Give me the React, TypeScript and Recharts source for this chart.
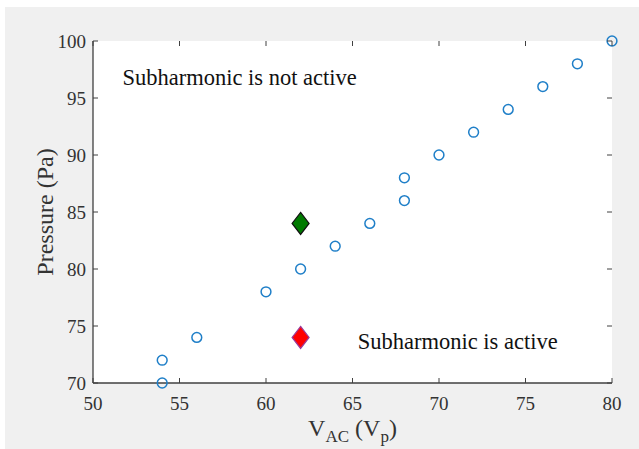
import { ScatterChart, Scatter, XAxis, YAxis, CartesianGrid, ReferenceDot } from 'recharts'

// measured data (V_AC in Vp, pressure in Pa)
const vac = [54, 54, 56, 60, 62, 64, 66, 68, 68, 70, 72, 74, 76, 78, 80]
const pressure = [70, 72, 74, 78, 80, 82, 84, 86, 88, 90, 92, 94, 96, 98, 100]

const notActiveVac = [62]
const notActivePressure = [84]
const activeVac = [62]
const activePressure = [74]

const xTicks = [50, 55, 60, 65, 70, 75, 80]
const yTicks = [70, 75, 80, 85, 90, 95, 100]

const notActiveText = { x: 51.7, y: 96.8, label: 'Subharmonic is not active' }
const activeText = { x: 65.3, y: 73.6, label: 'Subharmonic is active' }

const W = 639
const H = 449
const PLOT_LEFT = 93
const PLOT_RIGHT = 612
const PLOT_TOP = 41
const PLOT_BOTTOM = 383
const TICK = 5
const AXIS = '#404040'
const FONT = '"Liberation Serif", "Times New Roman", serif'

const points = vac.map((v, i) => ({ x: v, y: pressure[i] }))
const notActive = notActiveVac.map((v, i) => ({ x: v, y: notActivePressure[i] }))
const active = activeVac.map((v, i) => ({ x: v, y: activePressure[i] }))

const Ring = ({ cx, cy }: any) => (
  <circle cx={cx} cy={cy} r={4.9} fill="none" stroke="#1f7fc8" strokeWidth={1.5} />
)

const diamond = (fill: string, edge: string) => ({ cx, cy }: any) => (
  <polygon
    points={`${cx},${cy - 11} ${cx + 8.5},${cy} ${cx},${cy + 11} ${cx - 8.5},${cy}`}
    fill={fill}
    stroke={edge}
    strokeWidth={1.2}
  />
)

const XTick = ({ x, payload }: any) => (
  <g>
    <line x1={x} x2={x} y1={PLOT_BOTTOM} y2={PLOT_BOTTOM - TICK} stroke={AXIS} />
    <line x1={x} x2={x} y1={PLOT_TOP} y2={PLOT_TOP + TICK} stroke={AXIS} />
    <text x={x} y={PLOT_BOTTOM + 27} textAnchor="middle" fontFamily={FONT} fontSize={19} fill="#333">
      {payload.value}
    </text>
  </g>
)

const YTick = ({ y, payload }: any) => (
  <g>
    <line x1={PLOT_LEFT} x2={PLOT_LEFT + TICK} y1={y} y2={y} stroke={AXIS} />
    <line x1={PLOT_RIGHT} x2={PLOT_RIGHT - TICK} y1={y} y2={y} stroke={AXIS} />
    <text x={PLOT_LEFT - 7} y={y} textAnchor="end" dominantBaseline="central" fontFamily={FONT} fontSize={19} fill="#333">
      {payload.value}
    </text>
  </g>
)

const XLabel = () => (
  <text x={(PLOT_LEFT + PLOT_RIGHT) / 2} y={436} textAnchor="middle" fontFamily={FONT} fontSize={24} fill="#333">
    <tspan>V</tspan>
    <tspan dy={6} fontSize={17}>AC</tspan>
    <tspan dy={-6}> (V</tspan>
    <tspan dy={6} fontSize={17}>p</tspan>
    <tspan dy={-6}>)</tspan>
  </text>
)

const YLabel = () => (
  <text
    x={45}
    y={(PLOT_TOP + PLOT_BOTTOM) / 2}
    textAnchor="middle"
    dominantBaseline="central"
    transform={`rotate(-90, 45, ${(PLOT_TOP + PLOT_BOTTOM) / 2})`}
    fontFamily={FONT}
    fontSize={24}
    fill="#333"
  >
    Pressure (Pa)
  </text>
)

const Note = ({ text }: { text: string }) => ({ viewBox }: any) => (
  <text x={viewBox.x} y={viewBox.y} dominantBaseline="central" fontFamily={FONT} fontSize={22.5} fill="#111">
    {text}
  </text>
)

export default function App() {
  return (
    <div style={{ position: 'fixed', left: 0, top: 0, width: W, height: H, background: '#fff' }}>
      <div style={{ position: 'absolute', left: 5, top: 7, right: 0, bottom: 0, background: '#f0f0f0' }} />
      <div style={{ position: 'absolute', left: 0, top: 0 }}>
        <ScatterChart
          width={W}
          height={H}
          margin={{ top: PLOT_TOP, right: W - PLOT_RIGHT, bottom: 0, left: 0 }}
        >
          <CartesianGrid fill="#fff" horizontal={false} vertical={false} />
          <XAxis
            type="number"
            dataKey="x"
            domain={[50, 80]}
            ticks={xTicks}
            height={H - PLOT_BOTTOM}
            axisLine={{ stroke: AXIS, strokeWidth: 1.3 }}
            tickLine={false}
            tick={<XTick />}
            label={<XLabel />}
            interval={0}
          />
          <XAxis
            xAxisId="top"
            orientation="top"
            type="number"
            domain={[50, 80]}
            height={0}
            axisLine={{ stroke: AXIS, strokeWidth: 1.3 }}
            tickLine={false}
            tick={false}
          />
          <YAxis
            type="number"
            dataKey="y"
            domain={[70, 100]}
            ticks={yTicks}
            width={PLOT_LEFT}
            axisLine={{ stroke: AXIS, strokeWidth: 1.3 }}
            tickLine={false}
            tick={<YTick />}
            label={<YLabel />}
            interval={0}
          />
          <YAxis
            yAxisId="right"
            orientation="right"
            type="number"
            domain={[70, 100]}
            width={0}
            axisLine={{ stroke: AXIS, strokeWidth: 1.3 }}
            tickLine={false}
            tick={false}
          />
          <Scatter data={points} shape={<Ring />} isAnimationActive={false} />
          <Scatter data={notActive} shape={diamond('#007a00', '#111')} isAnimationActive={false} />
          <Scatter data={active} shape={diamond('#ff0000', '#9a3a9a')} isAnimationActive={false} />
          <ReferenceDot
            x={notActiveText.x}
            y={notActiveText.y}
            r={0}
            ifOverflow="visible"
            label={Note({ text: notActiveText.label })}
          />
          <ReferenceDot
            x={activeText.x}
            y={activeText.y}
            r={0}
            ifOverflow="visible"
            label={Note({ text: activeText.label })}
          />
        </ScatterChart>
      </div>
    </div>
  )
}
